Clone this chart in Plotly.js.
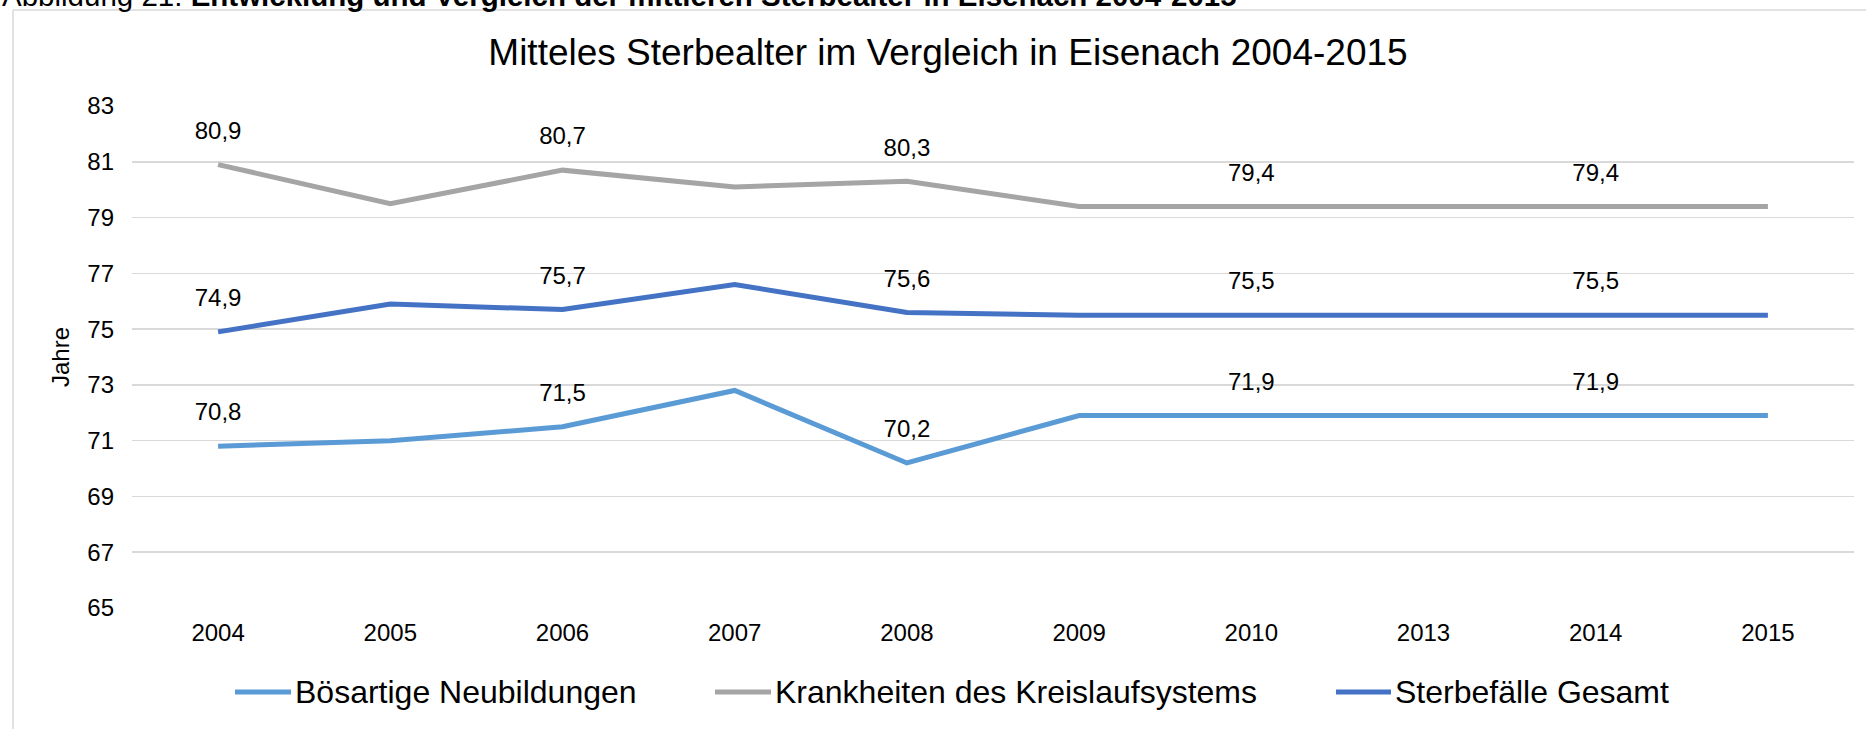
<!DOCTYPE html>
<html>
<head>
<meta charset="utf-8">
<script src="https://cdn.plot.ly/plotly-3.0.1.min.js"></script>
<style>
html, body { margin: 0; padding: 0; background: #ffffff; }
#chart { width: 1866px; height: 729px; }
</style>
</head>
<body>
<div id="chart"></div>
<script>
// ---- data ----
const years = ['2004', '2005', '2006', '2007', '2008', '2009', '2010', '2013', '2014', '2015'];
const boesartigeNeubildungen = [70.8, 71.0, 71.5, 72.8, 70.2, 71.9, 71.9, 71.9, 71.9, 71.9];
const krankheitenKreislauf = [80.9, 79.5, 80.7, 80.1, 80.3, 79.4, 79.4, 79.4, 79.4, 79.4];
const sterbefaelleGesamt = [74.9, 75.9, 75.7, 76.6, 75.6, 75.5, 75.5, 75.5, 75.5, 75.5];
const labelledYears = ['2004', '2006', '2008', '2010', '2014'];
const seriesNames = ['Bösartige Neubildungen', 'Krankheiten des Kreislaufsystems', 'Sterbefälle Gesamt'];
const yTickValues = [65, 67, 69, 71, 73, 75, 77, 79, 81, 83];
const chartTitle = 'Mitteles Sterbealter im Vergleich in Eisenach 2004-2015';
const yAxisTitle = 'Jahre';
const headerText = 'Abbildung 21: <b>Entwicklung und Vergleich der mittleren Sterbealter in Eisenach 2004-2015</b>';

// ---- styling ----
const colors = ['#5B9BD5', '#A5A5A5', '#4472C4'];
const FONT = 'Liberation Sans, Arial, sans-serif';
const W = 1866, H = 729;
const M = {l: 132, r: 12, t: 106, b: 121};
const plotW = W - M.l - M.r, plotH = H - M.t - M.b;
const px = X => (X - M.l) / plotW;      // page pixel -> paper x
const py = Y => (H - M.b - Y) / plotH;  // page pixel -> paper y

function labels(values) {
  return values.map((v, i) => labelledYears.includes(years[i]) ? v.toFixed(1).replace('.', ',') : '');
}

const seriesValues = [boesartigeNeubildungen, krankheitenKreislauf, sterbefaelleGesamt];
const traces = seriesValues.map((vals, k) => ({
  type: 'scatter',
  mode: 'lines+markers+text',
  x: years,
  y: vals,
  name: seriesNames[k],
  text: labels(vals),
  textposition: 'top center',
  textfont: {family: FONT, size: 24, color: '#000000'},
  line: {color: colors[k], width: 5},
  marker: {size: 30, opacity: 0, color: colors[k]},
  cliponaxis: false,
  showlegend: false,
  hoverinfo: 'skip'
}));

// custom legend (swatch + label)
const legendSwatches = [[235, 291], [715, 771], [1336, 1391]];
const legendY = 692;
const shapes = [];
const annotations = [];
legendSwatches.forEach((s, k) => {
  shapes.push({type: 'line', xref: 'paper', yref: 'paper', x0: px(s[0]), x1: px(s[1]), y0: py(legendY), y1: py(legendY),
    line: {color: colors[k], width: 5}});
  annotations.push({xref: 'paper', yref: 'paper', x: px(s[1] + 2), y: py(legendY), xanchor: 'left', yanchor: 'middle',
    text: seriesNames[k], showarrow: false, font: {family: FONT, size: 32, color: '#000000'}});
});
// outer frame (left and top edges)
shapes.push({type: 'line', xref: 'paper', yref: 'paper', x0: px(13), x1: px(13), y0: py(10), y1: py(740), line: {color: '#D9D9D9', width: 1.5}});
shapes.push({type: 'line', xref: 'paper', yref: 'paper', x0: px(13), x1: px(1880), y0: py(10), y1: py(10), line: {color: '#D9D9D9', width: 1.5}});
// cropped figure caption at the very top
annotations.push({xref: 'paper', yref: 'paper', x: px(0), y: py(14), xanchor: 'left', yanchor: 'bottom',
  text: headerText, showarrow: false, font: {family: FONT, size: 29.5, color: '#000000'}});

const layout = {
  width: W, height: H,
  margin: M,
  paper_bgcolor: '#ffffff',
  plot_bgcolor: '#ffffff',
  font: {family: FONT, size: 24, color: '#000000'},
  title: {text: chartTitle, font: {family: FONT, size: 37, color: '#000000'},
    xref: 'paper', x: px(948), xanchor: 'center', yref: 'container', y: 1 - 52 / H, yanchor: 'middle'},
  xaxis: {type: 'category', range: [-0.5, 9.5], showgrid: false, zeroline: false, showline: false,
    ticks: '', tickfont: {family: FONT, size: 24, color: '#000000'}, ticklabelstandoff: 8, fixedrange: true},
  yaxis: {range: [65, 83], tickvals: yTickValues, ticktext: yTickValues.map(String), showgrid: true,
    gridcolor: '#D9D9D9', gridwidth: 1.5, zeroline: false, showline: false, ticks: '',
    tickfont: {family: FONT, size: 24, color: '#000000'}, ticklabelstandoff: 17, fixedrange: true,
    title: {text: yAxisTitle, font: {family: FONT, size: 24, color: '#000000'}, standoff: 10}, automargin: false},
  shapes: shapes,
  annotations: annotations,
  showlegend: false,
  hovermode: false
};

Plotly.newPlot('chart', traces, layout, {displayModeBar: false, staticPlot: true});
</script>
</body>
</html>
